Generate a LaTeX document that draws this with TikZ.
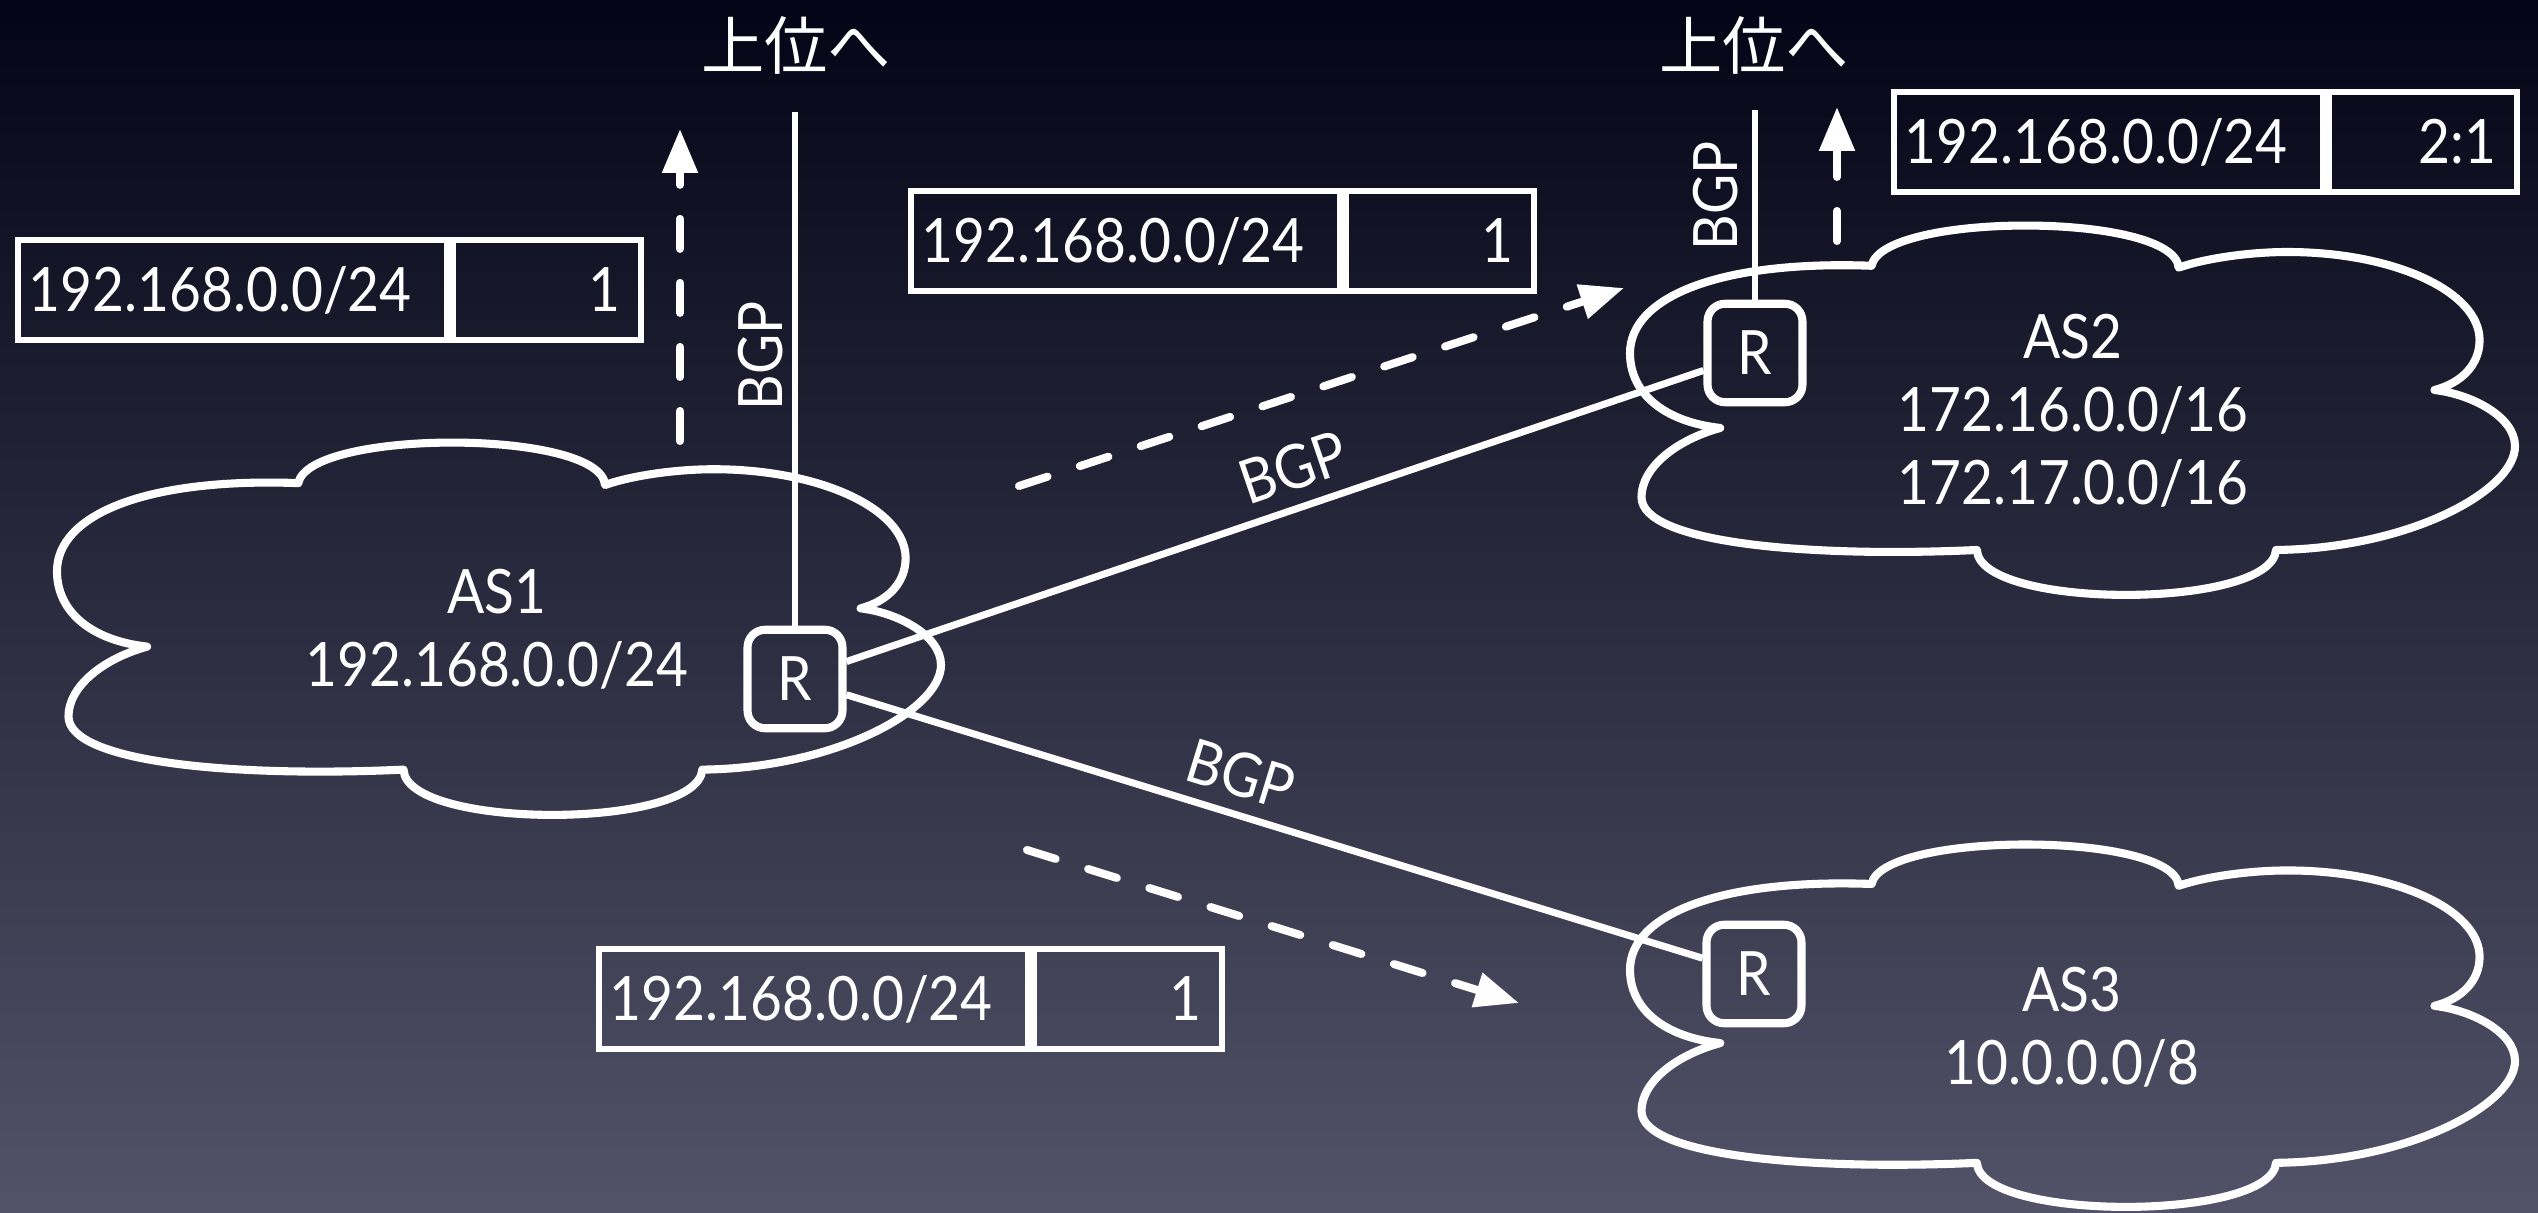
\documentclass[tikz,border=0pt]{standalone}
\usepackage{fontspec}
\setmainfont{Lato}[FakeStretch=0.9]
\newfontfamily\jpfont{Noto Sans CJK JP}
\usetikzlibrary{arrows.meta,calc}
\definecolor{bgtop}{RGB}{4,4,22}
\definecolor{bgmid}{RGB}{28,28,52}
\definecolor{bgbot}{RGB}{82,82,104}
\newcommand{\cloudoutline}{(0.102,0.551)
 .. controls (0.04,0.535) and (0,0.46) .. (0,0.35)
 .. controls (0,0.20) and (0.10,0.10) .. (0.273,0.115)
 .. controls (0.285,-0.03) and (0.615,-0.03) .. (0.62,0.12)
 .. controls (0.65,0.095) and (0.70,0.078) .. (0.743,0.078)
 .. controls (0.863,0.078) and (0.96,0.184) .. (0.96,0.315)
 .. controls (0.96,0.38) and (0.94,0.43) .. (0.909,0.449)
 .. controls (0.95,0.46) and (1.0,0.52) .. (1.0,0.60)
 .. controls (1.0,0.72) and (0.88,0.875) .. (0.73,0.879)
 .. controls (0.725,1.04) and (0.395,1.04) .. (0.392,0.879)
 .. controls (0.2,0.90) and (0.013,0.86) .. (0.013,0.737)
 .. controls (0.013,0.66) and (0.05,0.585) .. (0.102,0.551) -- cycle}
\begin{document}
\begin{tikzpicture}[x=0.01cm, y=-0.01cm,
  lbl/.style={text=white, font=\fontsize{17.4}{20.8}\selectfont},
  jp/.style={text=white, font=\jpfont\fontsize{18}{21}\selectfont, inner sep=0pt},
  cloudline/.style={draw=white, line width=2.3pt, line join=round},
  router/.style={lbl, draw=white, line width=2.3pt, rounded corners=5pt,
    minimum width=27pt, minimum height=28pt, inner sep=0pt},
  link/.style={draw=white, line width=2pt},
  vlink/.style={draw=white, line width=1.6pt},
  cellL/.style={lbl, draw=white, line width=1.7pt, minimum height=28.45pt,
    text width=116pt, inner xsep=3pt, align=left, text height=12.5pt,
    text depth=0pt, anchor=north west},
  cellR/.style={lbl, draw=white, line width=1.7pt, minimum height=28.45pt,
    text width=41.5pt, inner xsep=6pt, align=right, text height=12.5pt,
    text depth=0pt, anchor=north west},
  dasharrow/.style={draw=white, line width=2.28pt, line cap=round,
    dash pattern=on 8.54pt off 9.67pt,
    -{Triangle[length=12.5pt,width=9.7pt]}},
  slantlbl/.style={lbl, sloped, above, inner sep=4pt}
]
% background
\shade[top color=bgtop, middle color=bgmid, bottom color=bgbot]
  (0,0) rectangle (2538,1213);
\useasboundingbox (0,0) rectangle (2538,1213);

% clouds
\begin{scope}[shift={(57,440)}, xscale=884, yscale=375]
  \draw[cloudline] \cloudoutline;
\end{scope}
\begin{scope}[shift={(1630,223)}, xscale=885, yscale=372]
  \draw[cloudline] \cloudoutline;
\end{scope}
\begin{scope}[shift={(1630,842)}, xscale=885, yscale=365]
  \draw[cloudline] \cloudoutline;
\end{scope}

% cloud labels
\node[lbl, align=center] (as1t) at (497,629) {AS1\\192.168.0.0/24};
\node[lbl, align=center] (as2t) at (2073,411) {AS2\\172.16.0.0/16\\172.17.0.0/16};
\node[lbl, align=center] (as3t) at (2072,1027) {AS3\\10.0.0.0/8};

% routers
\node[router] (r1) at (795,679) {R};
\node[router] (r2) at (1755,353) {R};
\node[router] (r3) at (1754,974) {R};

% upstream
\node[jp] (up1t) at (796,45) {上位へ};
\node[jp] (up2t) at (1754,45) {上位へ};
\coordinate (up1) at (795,112);
\coordinate (up2) at (1755,110);
\draw[vlink] (r1) -- (up1);
\draw[vlink] (r2) -- (up2);
\node[lbl, rotate=90] (bgpv1) at (761,356) {BGP};
\node[lbl, rotate=90] (bgpv2) at (1716,196) {BGP};

% BGP links
\draw[link] (r1) -- node[slantlbl, pos=0.536] (bgpa) {BGP} (r2);
\draw[link] (r1) -- node[slantlbl, pos=0.447] (bgpb) {BGP} (r3);

% tables
\node[cellL] (t1p) at (15,237) {192.168.0.0/24};
\node[cellR] (t1v) at (t1p.north east) {1};
\node[cellL] (t2p) at (908,188) {192.168.0.0/24};
\node[cellR] (t2v) at (t2p.north east) {1};
\node[cellL] (t3p) at (1891,89) {192.168.0.0/24};
\node[cellR] (t3v) at (t3p.north east) {2:1};
\node[cellL] (t4p) at (596,946) {192.168.0.0/24};
\node[cellR] (t4v) at (t4p.north east) {1};

% dashed advertisement arrows
\coordinate (a1s) at (680,441); \coordinate (a1e) at (680,129);
\coordinate (a2s) at (1019,486); \coordinate (a2e) at (1624,288);
\coordinate (a3s) at (1027,850); \coordinate (a3e) at (1519,1003);
\coordinate (a4s) at (1837,241); \coordinate (a4e) at (1837,107);
\draw[dasharrow] (a1s) -- (a1e);
\draw[dasharrow] (a2s) -- (a2e);
\draw[dasharrow] (a3s) -- (a3e);
\draw[dasharrow] (a4s) -- (a4e);
\end{tikzpicture}
\end{document}
